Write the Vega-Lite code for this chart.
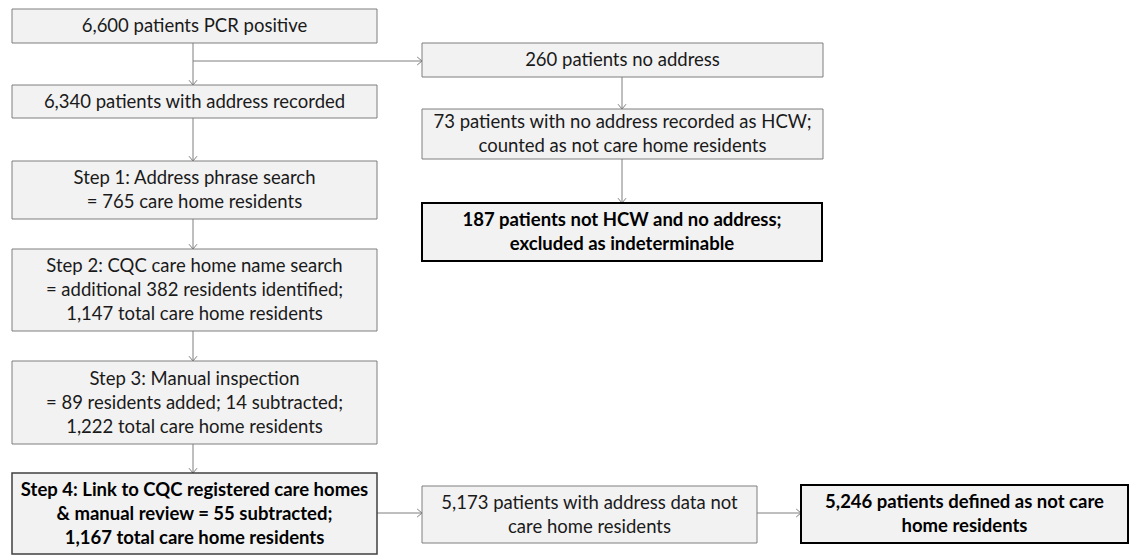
{
  "$schema": "https://vega.github.io/schema/vega-lite/v6.json",
  "width": 1130,
  "height": 556,
  "padding": 0,
  "autosize": {"type": "none"},
  "background": "white",
  "config": {"view": {"stroke": null}},
  "datasets": {
    "boxes": [
      {"id": "A", "x1": 12, "x2": 377, "y1": 9, "y2": 43, "kind": "normal", "label": ["6,600 patients PCR positive"]},
      {"id": "B", "x1": 12, "x2": 377, "y1": 85, "y2": 118, "kind": "normal", "label": ["6,340 patients with address recorded"]},
      {"id": "S1", "x1": 12, "x2": 377, "y1": 161, "y2": 219, "kind": "normal", "label": ["Step 1: Address phrase search", "= 765 care home residents"]},
      {"id": "S2", "x1": 12, "x2": 377, "y1": 249, "y2": 331, "kind": "normal", "label": ["Step 2: CQC care home name search", "= additional 382 residents identified;", "1,147 total care home residents"]},
      {"id": "S3", "x1": 12, "x2": 377, "y1": 361, "y2": 444, "kind": "normal", "label": ["Step 3: Manual inspection", "= 89 residents added; 14 subtracted;", "1,222 total care home residents"]},
      {"id": "S4", "x1": 12, "x2": 377, "y1": 473, "y2": 554, "kind": "key", "label": ["Step 4: Link to CQC registered care homes", "& manual review = 55 subtracted;", "1,167 total care home residents"]},
      {"id": "N1", "x1": 422, "x2": 823, "y1": 43, "y2": 77, "kind": "normal", "label": ["260 patients no address"]},
      {"id": "N2", "x1": 422, "x2": 823, "y1": 109, "y2": 159, "kind": "normal", "label": ["73 patients with no address recorded as HCW;", "counted as not care home residents"]},
      {"id": "N3", "x1": 422, "x2": 822, "y1": 203, "y2": 261, "kind": "outcome", "label": ["187 patients not HCW and no address;", "excluded as indeterminable"]},
      {"id": "R1", "x1": 422, "x2": 757, "y1": 486, "y2": 543, "kind": "normal", "label": ["5,173 patients with address data not", "care home residents"]},
      {"id": "R2", "x1": 801, "x2": 1128, "y1": 485, "y2": 543, "kind": "outcome", "label": ["5,246 patients defined as not care", "home residents"]}
    ],
    "links": [
      {"x1": 193, "x2": 193, "y1": 43, "y2": 85, "dir": "down"},
      {"x1": 193, "x2": 422, "y1": 61, "y2": 61, "dir": "right"},
      {"x1": 193, "x2": 193, "y1": 118, "y2": 161, "dir": "down"},
      {"x1": 193, "x2": 193, "y1": 219, "y2": 249, "dir": "down"},
      {"x1": 193, "x2": 193, "y1": 331, "y2": 361, "dir": "down"},
      {"x1": 193, "x2": 193, "y1": 444, "y2": 473, "dir": "down"},
      {"x1": 622, "x2": 622, "y1": 77, "y2": 109, "dir": "down"},
      {"x1": 622, "x2": 622, "y1": 159, "y2": 203, "dir": "down"},
      {"x1": 377, "x2": 422, "y1": 513, "y2": 513, "dir": "right"},
      {"x1": 757, "x2": 801, "y1": 513, "y2": 513, "dir": "right"}
    ]
  },
  "layer": [
    {
      "data": {"name": "links"},
      "mark": {"type": "rule", "color": "#7f7f7f", "strokeWidth": 1},
      "encoding": {
        "x": {"field": "x1", "type": "quantitative", "scale": {"domain": [0, 1130], "nice": false, "zero": false}, "axis": null},
        "x2": {"field": "x2"},
        "y": {"field": "y1", "type": "quantitative", "scale": {"domain": [0, 556], "nice": false, "zero": false, "reverse": true}, "axis": null},
        "y2": {"field": "y2"}
      }
    },
    {
      "data": {"name": "links"},
      "transform": [{"filter": "datum.dir === 'down'"}],
      "mark": {"type": "point", "shape": "M-1,-1.2L0,0L1,-1.2", "filled": false, "stroke": "#7f7f7f", "strokeWidth": 1, "size": 64, "opacity": 1},
      "encoding": {
        "x": {"field": "x2", "type": "quantitative", "scale": {"domain": [0, 1130], "nice": false, "zero": false}, "axis": null},
        "y": {"field": "y2", "type": "quantitative", "scale": {"domain": [0, 556], "nice": false, "zero": false, "reverse": true}, "axis": null}
      }
    },
    {
      "data": {"name": "links"},
      "transform": [{"filter": "datum.dir === 'right'"}],
      "mark": {"type": "point", "shape": "M-1.2,-1L0,0L-1.2,1", "filled": false, "stroke": "#7f7f7f", "strokeWidth": 1, "size": 64, "opacity": 1},
      "encoding": {
        "x": {"field": "x2", "type": "quantitative", "scale": {"domain": [0, 1130], "nice": false, "zero": false}, "axis": null},
        "y": {"field": "y2", "type": "quantitative", "scale": {"domain": [0, 556], "nice": false, "zero": false, "reverse": true}, "axis": null}
      }
    },
    {
      "data": {"name": "boxes"},
      "mark": {"type": "rect", "fill": "#f2f2f2"},
      "encoding": {
        "x": {"field": "x1", "type": "quantitative", "scale": {"domain": [0, 1130], "nice": false, "zero": false}, "axis": null},
        "x2": {"field": "x2"},
        "y": {"field": "y1", "type": "quantitative", "scale": {"domain": [0, 556], "nice": false, "zero": false, "reverse": true}, "axis": null},
        "y2": {"field": "y2"},
        "stroke": {"field": "kind", "type": "nominal", "scale": {"domain": ["normal", "key", "outcome"], "range": ["#7f7f7f", "#404040", "#000000"]}, "legend": null},
        "strokeWidth": {"field": "kind", "type": "nominal", "scale": {"domain": ["normal", "key", "outcome"], "range": [1, 2, 2]}, "legend": null}
      }
    },
    {
      "data": {"name": "boxes"},
      "transform": [
        {"filter": "datum.kind === 'normal'"},
        {"calculate": "(datum.x1 + datum.x2) / 2", "as": "cx"},
        {"calculate": "(datum.y1 + datum.y2) / 2 - (length(datum.label) - 1) * 12", "as": "ty"}
      ],
      "mark": {"type": "text", "font": "Lato", "fontSize": 18.5, "lineHeight": 24, "align": "center", "baseline": "middle", "color": "#1a1a1a"},
      "encoding": {
        "x": {"field": "cx", "type": "quantitative", "scale": {"domain": [0, 1130], "nice": false, "zero": false}, "axis": null},
        "y": {"field": "ty", "type": "quantitative", "scale": {"domain": [0, 556], "nice": false, "zero": false, "reverse": true}, "axis": null},
        "text": {"field": "label"}
      }
    },
    {
      "data": {"name": "boxes"},
      "transform": [
        {"filter": "datum.kind !== 'normal'"},
        {"calculate": "(datum.x1 + datum.x2) / 2", "as": "cx"},
        {"calculate": "(datum.y1 + datum.y2) / 2 - (length(datum.label) - 1) * 12", "as": "ty"}
      ],
      "mark": {"type": "text", "font": "Lato", "fontSize": 18.5, "fontWeight": "bold", "lineHeight": 24, "align": "center", "baseline": "middle", "color": "#000000"},
      "encoding": {
        "x": {"field": "cx", "type": "quantitative", "scale": {"domain": [0, 1130], "nice": false, "zero": false}, "axis": null},
        "y": {"field": "ty", "type": "quantitative", "scale": {"domain": [0, 556], "nice": false, "zero": false, "reverse": true}, "axis": null},
        "text": {"field": "label"}
      }
    }
  ]
}
